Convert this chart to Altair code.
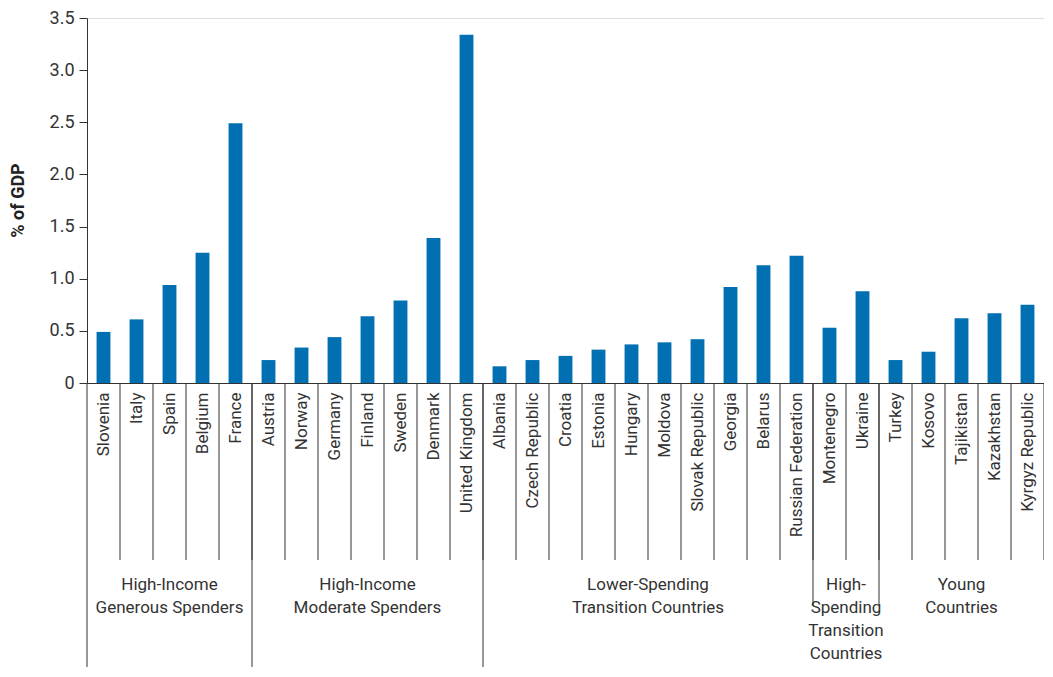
import altair as alt
import pandas as pd

countries = ["Slovenia", "Italy", "Spain", "Belgium", "France",
             "Austria", "Norway", "Germany", "Finland", "Sweden", "Denmark", "United Kingdom",
             "Albania", "Czech Republic", "Croatia", "Estonia", "Hungary", "Moldova",
             "Slovak Republic", "Georgia", "Belarus", "Russian Federation",
             "Montenegro", "Ukraine",
             "Turkey", "Kosovo", "Tajikistan", "Kazakhstan", "Kyrgyz Republic"]
values = [0.49, 0.61, 0.94, 1.25, 2.49,
          0.22, 0.34, 0.44, 0.64, 0.79, 1.39, 3.34,
          0.16, 0.22, 0.26, 0.32, 0.37, 0.39, 0.42, 0.92, 1.13, 1.22,
          0.53, 0.88,
          0.22, 0.30, 0.62, 0.67, 0.75]
group_labels = ["High-Income\nGenerous Spenders",
                "High-Income\nModerate Spenders",
                "Lower-Spending\nTransition Countries",
                "High-\nSpending\nTransition\nCountries",
                "Young\nCountries"]
group_sizes = [5, 7, 10, 2, 5]
y_ticks = [0, 0.5, 1.0, 1.5, 2.0, 2.5, 3.0, 3.5]

FONT = "Roboto"
BLUE = "#0070b2"
LINE = "#333333"
TEXT = "#333333"
N = len(countries)

df = pd.DataFrame({"country": countries, "value": values})

starts = []
s = 0
for g in group_sizes:
    starts.append(s)
    s += g
groups = pd.DataFrame({
    "label": group_labels,
    "start": starts,
    "center": [st + g / 2 for st, g in zip(starts, group_sizes)],
})
seps = pd.DataFrame({"pos": list(range(1, N + 1))})
long_b = pd.DataFrame({"pos": starts[:3]})
short_b = pd.DataFrame({"pos": starts[3:5]})

qx = alt.Scale(domain=[0, N], nice=False, zero=False)

bars = alt.Chart(df).mark_bar(color=BLUE, width=alt.RelativeBandSize(0.42)).encode(
    x=alt.X("country:N", sort=countries,
            scale=alt.Scale(paddingInner=0, paddingOuter=0),
            axis=alt.Axis(title=None, labelAngle=-90, labelPadding=9, labelFontSize=17,
                          labelColor=TEXT, ticks=False, domainColor=LINE,
                          labelFont=FONT, labelLimit=300)),
    y=alt.Y("value:Q", scale=alt.Scale(domain=[0, 3.5], nice=False),
            axis=alt.Axis(title="% of GDP", values=y_ticks,
                          labelExpr="datum.value == 0 ? '0' : format(datum.value, '.1f')",
                          labelFontSize=18, labelColor=TEXT, labelFont=FONT,
                          tickSize=8, tickColor=LINE, domainColor=LINE, labelPadding=5,
                          grid=False, titleFont=FONT, titleFontSize=18,
                          titleFontWeight="bold", titleColor="#222222",
                          titleAngle=270, titleX=-69, titleY=182,
                          titleAlign="center", titleBaseline="middle")),
)

sep_rules = alt.Chart(seps).mark_rule(color=LINE, strokeWidth=1).encode(
    x=alt.X("pos:Q", scale=qx, axis=None),
    y=alt.value(365), y2=alt.value(542))

long_rules = alt.Chart(long_b).mark_rule(color=LINE, strokeWidth=1).encode(
    x=alt.X("pos:Q", scale=qx, axis=None),
    y=alt.value(365), y2=alt.value(700))

short_rules = alt.Chart(short_b).mark_rule(color=LINE, strokeWidth=1).encode(
    x=alt.X("pos:Q", scale=qx, axis=None),
    y=alt.value(365), y2=alt.value(587))

group_text = alt.Chart(groups).mark_text(
    font=FONT, fontSize=17, color=TEXT, align="center", baseline="alphabetic",
    lineBreak="\n", lineHeight=23).encode(
    x=alt.X("center:Q", scale=qx, axis=None),
    y=alt.value(572),
    text="label:N")

chart = alt.layer(bars, sep_rules, long_rules, short_rules, group_text).resolve_scale(
    x="independent"
).properties(
    width=957, height=365,
    autosize=alt.AutoSizeParams(type="none"),
    padding={"left": 79, "top": 10, "right": 0, "bottom": 284},
).configure_view(stroke=None).configure(font=FONT)

chart.save("out.html", embed_options={"renderer": "svg", "actions": False})
